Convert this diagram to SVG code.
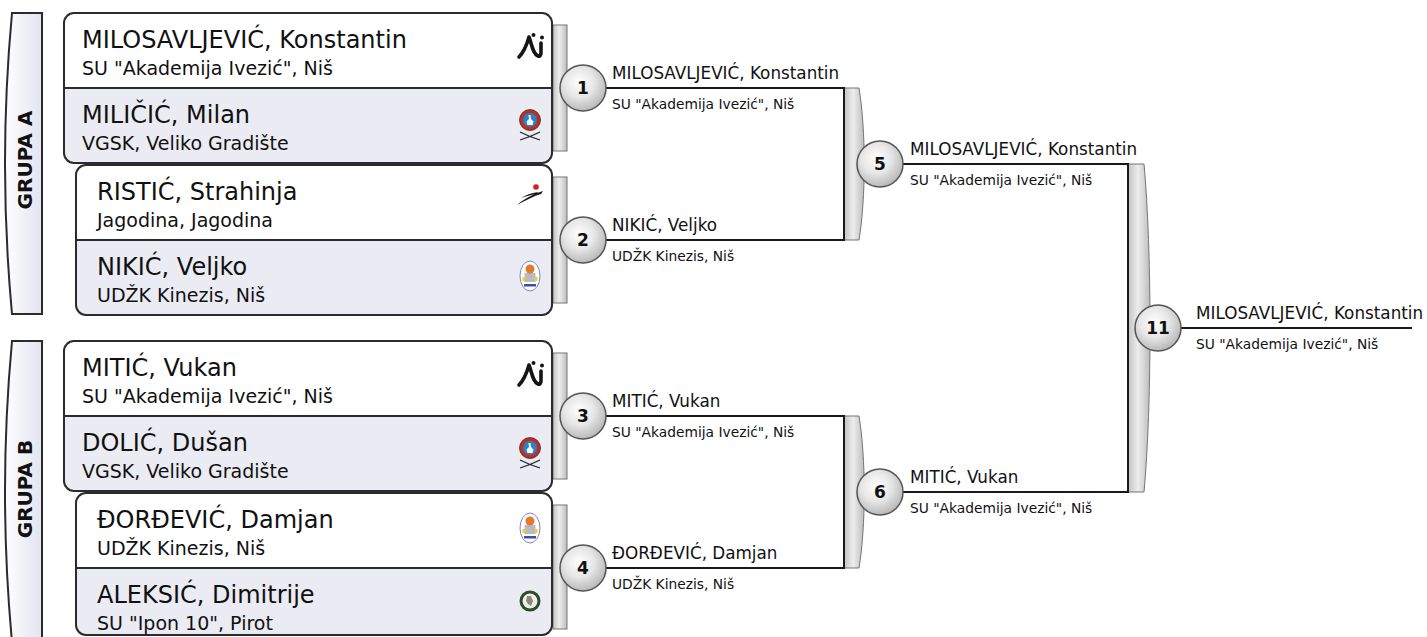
<svg xmlns="http://www.w3.org/2000/svg" width="1427" height="637" viewBox="0 0 1427 637">
<style>
.box{fill:none;stroke:#2b2b2b;stroke-width:2}
.r1{fill:#ffffff}
.r2{fill:#ebebf3}
.div{stroke:#2b2b2b;stroke-width:2}
.t{font-family:'DejaVu Sans','Noto Sans',sans-serif;fill:#111}
.nm{font-size:24px}
.cl{font-size:19px}
.ln{stroke:#1a1a1a;stroke-width:2;fill:none}
.lbn{font-size:16.8px}
.lbc{font-size:13.8px}
.num{font-family:'DejaVu Sans',sans-serif;font-weight:bold;font-size:17px;text-anchor:middle;fill:#111}
.circ{fill:url(#circGrad);stroke:#555;stroke-width:1.5}
.band{fill:url(#bandGrad);stroke:#777;stroke-width:1}
.grp{fill:url(#grpGrad);stroke:#2b2b2b;stroke-width:2}
.gt{font-family:'DejaVu Sans',sans-serif;font-weight:bold;font-size:20px;text-anchor:middle;fill:#111}
</style>
<defs>
<linearGradient id="bandGrad" x1="0" y1="0" x2="1" y2="0">
<stop offset="0" stop-color="#c2c2c2"/>
<stop offset="0.45" stop-color="#ededed"/>
<stop offset="1" stop-color="#bcbcbc"/>
</linearGradient>
<radialGradient id="circGrad" cx="0.42" cy="0.38" r="0.65">
<stop offset="0" stop-color="#ffffff"/>
<stop offset="0.5" stop-color="#e6e6e6"/>
<stop offset="1" stop-color="#b5b5b5"/>
</radialGradient>
<linearGradient id="grpGrad" x1="0" y1="0" x2="1" y2="0">
<stop offset="0" stop-color="#ffffff"/>
<stop offset="1" stop-color="#e3e3f2"/>
</linearGradient>
<g id="logoAj">
<path d="M-12,11 C-7,6 -4,-2 -2,-9 C1,-1 2,8 7,10 C9,11 10,9 10,6 L10,-3" stroke="#151515" stroke-width="3.6" fill="none" stroke-linecap="round" stroke-linejoin="round"/>
<circle cx="2.5" cy="-11" r="2" fill="#151515"/>
<circle cx="11" cy="-8.5" r="2" fill="#151515"/>
</g>
<g id="logoVGSK">
<path d="M-10,12 Q0,17 10,20 M10,12 Q0,17 -10,20" stroke="#222" stroke-width="1.1" fill="none"/>
<circle r="10.5" fill="#c8281e" stroke="#333" stroke-width="0.8"/>
<circle r="7" fill="#1f86c9"/>
<path d="M-1.5,-5 L0.5,-5 L1,-1 L3.5,1.5 L2.5,5 L-2.5,5 L-3.5,1.5 L-1,-1 Z" fill="#ffffff"/>
</g>
<g id="logoJag">
<circle cx="6" cy="-9" r="2.8" fill="#d0202a"/>
<path d="M-13,9 C-6,3 3,-2 13,-5 L11,-2 C4,0 -4,4 -13,9 Z" fill="#151515"/>
<path d="M-9,2 C-4,-1 1,-3 8,-4 L6,-2 C1,-1 -4,0 -9,2 Z" fill="#151515"/>
</g>
<g id="logoKin">
<ellipse rx="10" ry="15" fill="#ffffff" stroke="#7a86c0" stroke-width="1"/>
<rect x="-5.5" y="-3" width="11" height="9" fill="#b9b9c9"/>
<rect x="-7.5" y="1" width="3" height="4" fill="#f0cf20"/>
<rect x="4.5" y="1" width="3" height="4" fill="#f0cf20"/>
<circle cx="0" cy="-7" r="4.5" fill="#e07b2a"/>
<rect x="-6" y="8" width="12" height="2.5" fill="#3c4fa8"/>
</g>
<g id="logoIpon">
<circle r="10.5" fill="#2e4a2c"/>
<circle r="7.5" fill="#f2f0e6"/>
<path d="M-3,-5 L1,-5 L3,0 L1,5 L-2,3 L-4,0 Z" fill="#8a8a80"/>
</g>
</defs>

<g id="group-a">
<path class="grp" d="M12,13 H42 V314 H12 Q-2,163.5 12,13 Z"/>
<text class="gt" transform="translate(32,160) rotate(-90)">GRUPA A</text>
</g>
<g id="group-b">
<path class="grp" d="M12,341 H42 V642 H12 Q-2,491.5 12,341 Z"/>
<text class="gt" transform="translate(32,489) rotate(-90)">GRUPA B</text>
</g>

<g id="connectors">
<rect class="band" x="553" y="25" width="14" height="126"/>
<rect class="band" x="553" y="177" width="14" height="126"/>
<rect class="band" x="553" y="353" width="14" height="126"/>
<rect class="band" x="553" y="505" width="14" height="124"/>
<path class="band" d="M844,88 L859,88 C866,130 866,198 859,240 L844,240 Z"/>
<path class="band" d="M844,416 L859,416 C866,458 866,526 859,568 L844,568 Z"/>
<path class="band" d="M1128,164 L1144,164 C1152,250 1152,406 1144,492 L1128,492 Z"/>
<path class="ln" d="M583,88 H844 V240 H583"/>
<path class="ln" d="M583,416 H844 V568 H583"/>
<path class="ln" d="M880,164 H1128 V492 H880"/>
<path class="ln" d="M1158,328 H1412"/>
</g>

<g id="box-1">
<rect class="r1" x="64" y="13" width="488" height="150" rx="10"/>
<path class="r2" d="M64,88 H552 V153 Q552,163 542,163 H74 Q64,163 64,153 Z"/>
<rect class="box" x="64" y="13" width="488" height="150" rx="10"/>
<line class="div" x1="64" y1="88" x2="552" y2="88"/>
<text class="t nm" x="82" y="48">MILOSAVLJEVIĆ, Konstantin</text>
<text class="t cl" x="82" y="75">SU "Akademija Ivezić", Niš</text>
<text class="t nm" x="82" y="123">MILIČIĆ, Milan</text>
<text class="t cl" x="82" y="150">VGSK, Veliko Gradište</text>
<use href="#logoAj" x="531" y="46"/>
<use href="#logoVGSK" x="530" y="120"/>
</g>
<g id="box-2">
<rect class="r1" x="76" y="165" width="476" height="150" rx="10"/>
<path class="r2" d="M76,240 H552 V305 Q552,315 542,315 H86 Q76,315 76,305 Z"/>
<rect class="box" x="76" y="165" width="476" height="150" rx="10"/>
<line class="div" x1="76" y1="240" x2="552" y2="240"/>
<text class="t nm" x="97" y="200">RISTIĆ, Strahinja</text>
<text class="t cl" x="97" y="227">Jagodina, Jagodina</text>
<text class="t nm" x="97" y="275">NIKIĆ, Veljko</text>
<text class="t cl" x="97" y="302">UDŽK Kinezis, Niš</text>
<use href="#logoJag" x="530" y="196"/>
<use href="#logoKin" x="530" y="276"/>
</g>
<g id="box-3">
<rect class="r1" x="64" y="341" width="488" height="150" rx="10"/>
<path class="r2" d="M64,416 H552 V481 Q552,491 542,491 H74 Q64,491 64,481 Z"/>
<rect class="box" x="64" y="341" width="488" height="150" rx="10"/>
<line class="div" x1="64" y1="416" x2="552" y2="416"/>
<text class="t nm" x="82" y="376">MITIĆ, Vukan</text>
<text class="t cl" x="82" y="403">SU "Akademija Ivezić", Niš</text>
<text class="t nm" x="82" y="451">DOLIĆ, Dušan</text>
<text class="t cl" x="82" y="478">VGSK, Veliko Gradište</text>
<use href="#logoAj" x="531" y="374"/>
<use href="#logoVGSK" x="530" y="448"/>
</g>
<g id="box-4">
<rect class="r1" x="76" y="493" width="476" height="142" rx="10"/>
<path class="r2" d="M76,568 H552 V625 Q552,635 542,635 H86 Q76,635 76,625 Z"/>
<rect class="box" x="76" y="493" width="476" height="142" rx="10"/>
<line class="div" x1="76" y1="568" x2="552" y2="568"/>
<text class="t nm" x="97" y="528">ĐORĐEVIĆ, Damjan</text>
<text class="t cl" x="97" y="555">UDŽK Kinezis, Niš</text>
<text class="t nm" x="97" y="603">ALEKSIĆ, Dimitrije</text>
<text class="t cl" x="97" y="630">SU "Ipon 10", Pirot</text>
<use href="#logoKin" x="530" y="528"/>
<use href="#logoIpon" x="530" y="601"/>
</g>

<g id="match-1">
<circle class="circ" cx="583" cy="88" r="23"/>
<text class="num" x="583" y="94">1</text>
<text class="t lbn" x="612" y="79">MILOSAVLJEVIĆ, Konstantin</text>
<text class="t lbc" x="612" y="109">SU "Akademija Ivezić", Niš</text>
</g>
<g id="match-2">
<circle class="circ" cx="583" cy="240" r="23"/>
<text class="num" x="583" y="246">2</text>
<text class="t lbn" x="612" y="231">NIKIĆ, Veljko</text>
<text class="t lbc" x="612" y="261">UDŽK Kinezis, Niš</text>
</g>
<g id="match-3">
<circle class="circ" cx="583" cy="416" r="23"/>
<text class="num" x="583" y="422">3</text>
<text class="t lbn" x="612" y="407">MITIĆ, Vukan</text>
<text class="t lbc" x="612" y="437">SU "Akademija Ivezić", Niš</text>
</g>
<g id="match-4">
<circle class="circ" cx="583" cy="568" r="23"/>
<text class="num" x="583" y="574">4</text>
<text class="t lbn" x="612" y="559">ĐORĐEVIĆ, Damjan</text>
<text class="t lbc" x="612" y="589">UDŽK Kinezis, Niš</text>
</g>
<g id="match-5">
<circle class="circ" cx="880" cy="164" r="23"/>
<text class="num" x="880" y="170">5</text>
<text class="t lbn" x="910" y="155">MILOSAVLJEVIĆ, Konstantin</text>
<text class="t lbc" x="910" y="185">SU "Akademija Ivezić", Niš</text>
</g>
<g id="match-6">
<circle class="circ" cx="880" cy="492" r="23"/>
<text class="num" x="880" y="498">6</text>
<text class="t lbn" x="910" y="483">MITIĆ, Vukan</text>
<text class="t lbc" x="910" y="513">SU "Akademija Ivezić", Niš</text>
</g>
<g id="match-11">
<circle class="circ" cx="1158" cy="328" r="23"/>
<text class="num" x="1158" y="334">11</text>
<text class="t lbn" x="1196" y="319">MILOSAVLJEVIĆ, Konstantin</text>
<text class="t lbc" x="1196" y="349">SU "Akademija Ivezić", Niš</text>
</g>
</svg>
